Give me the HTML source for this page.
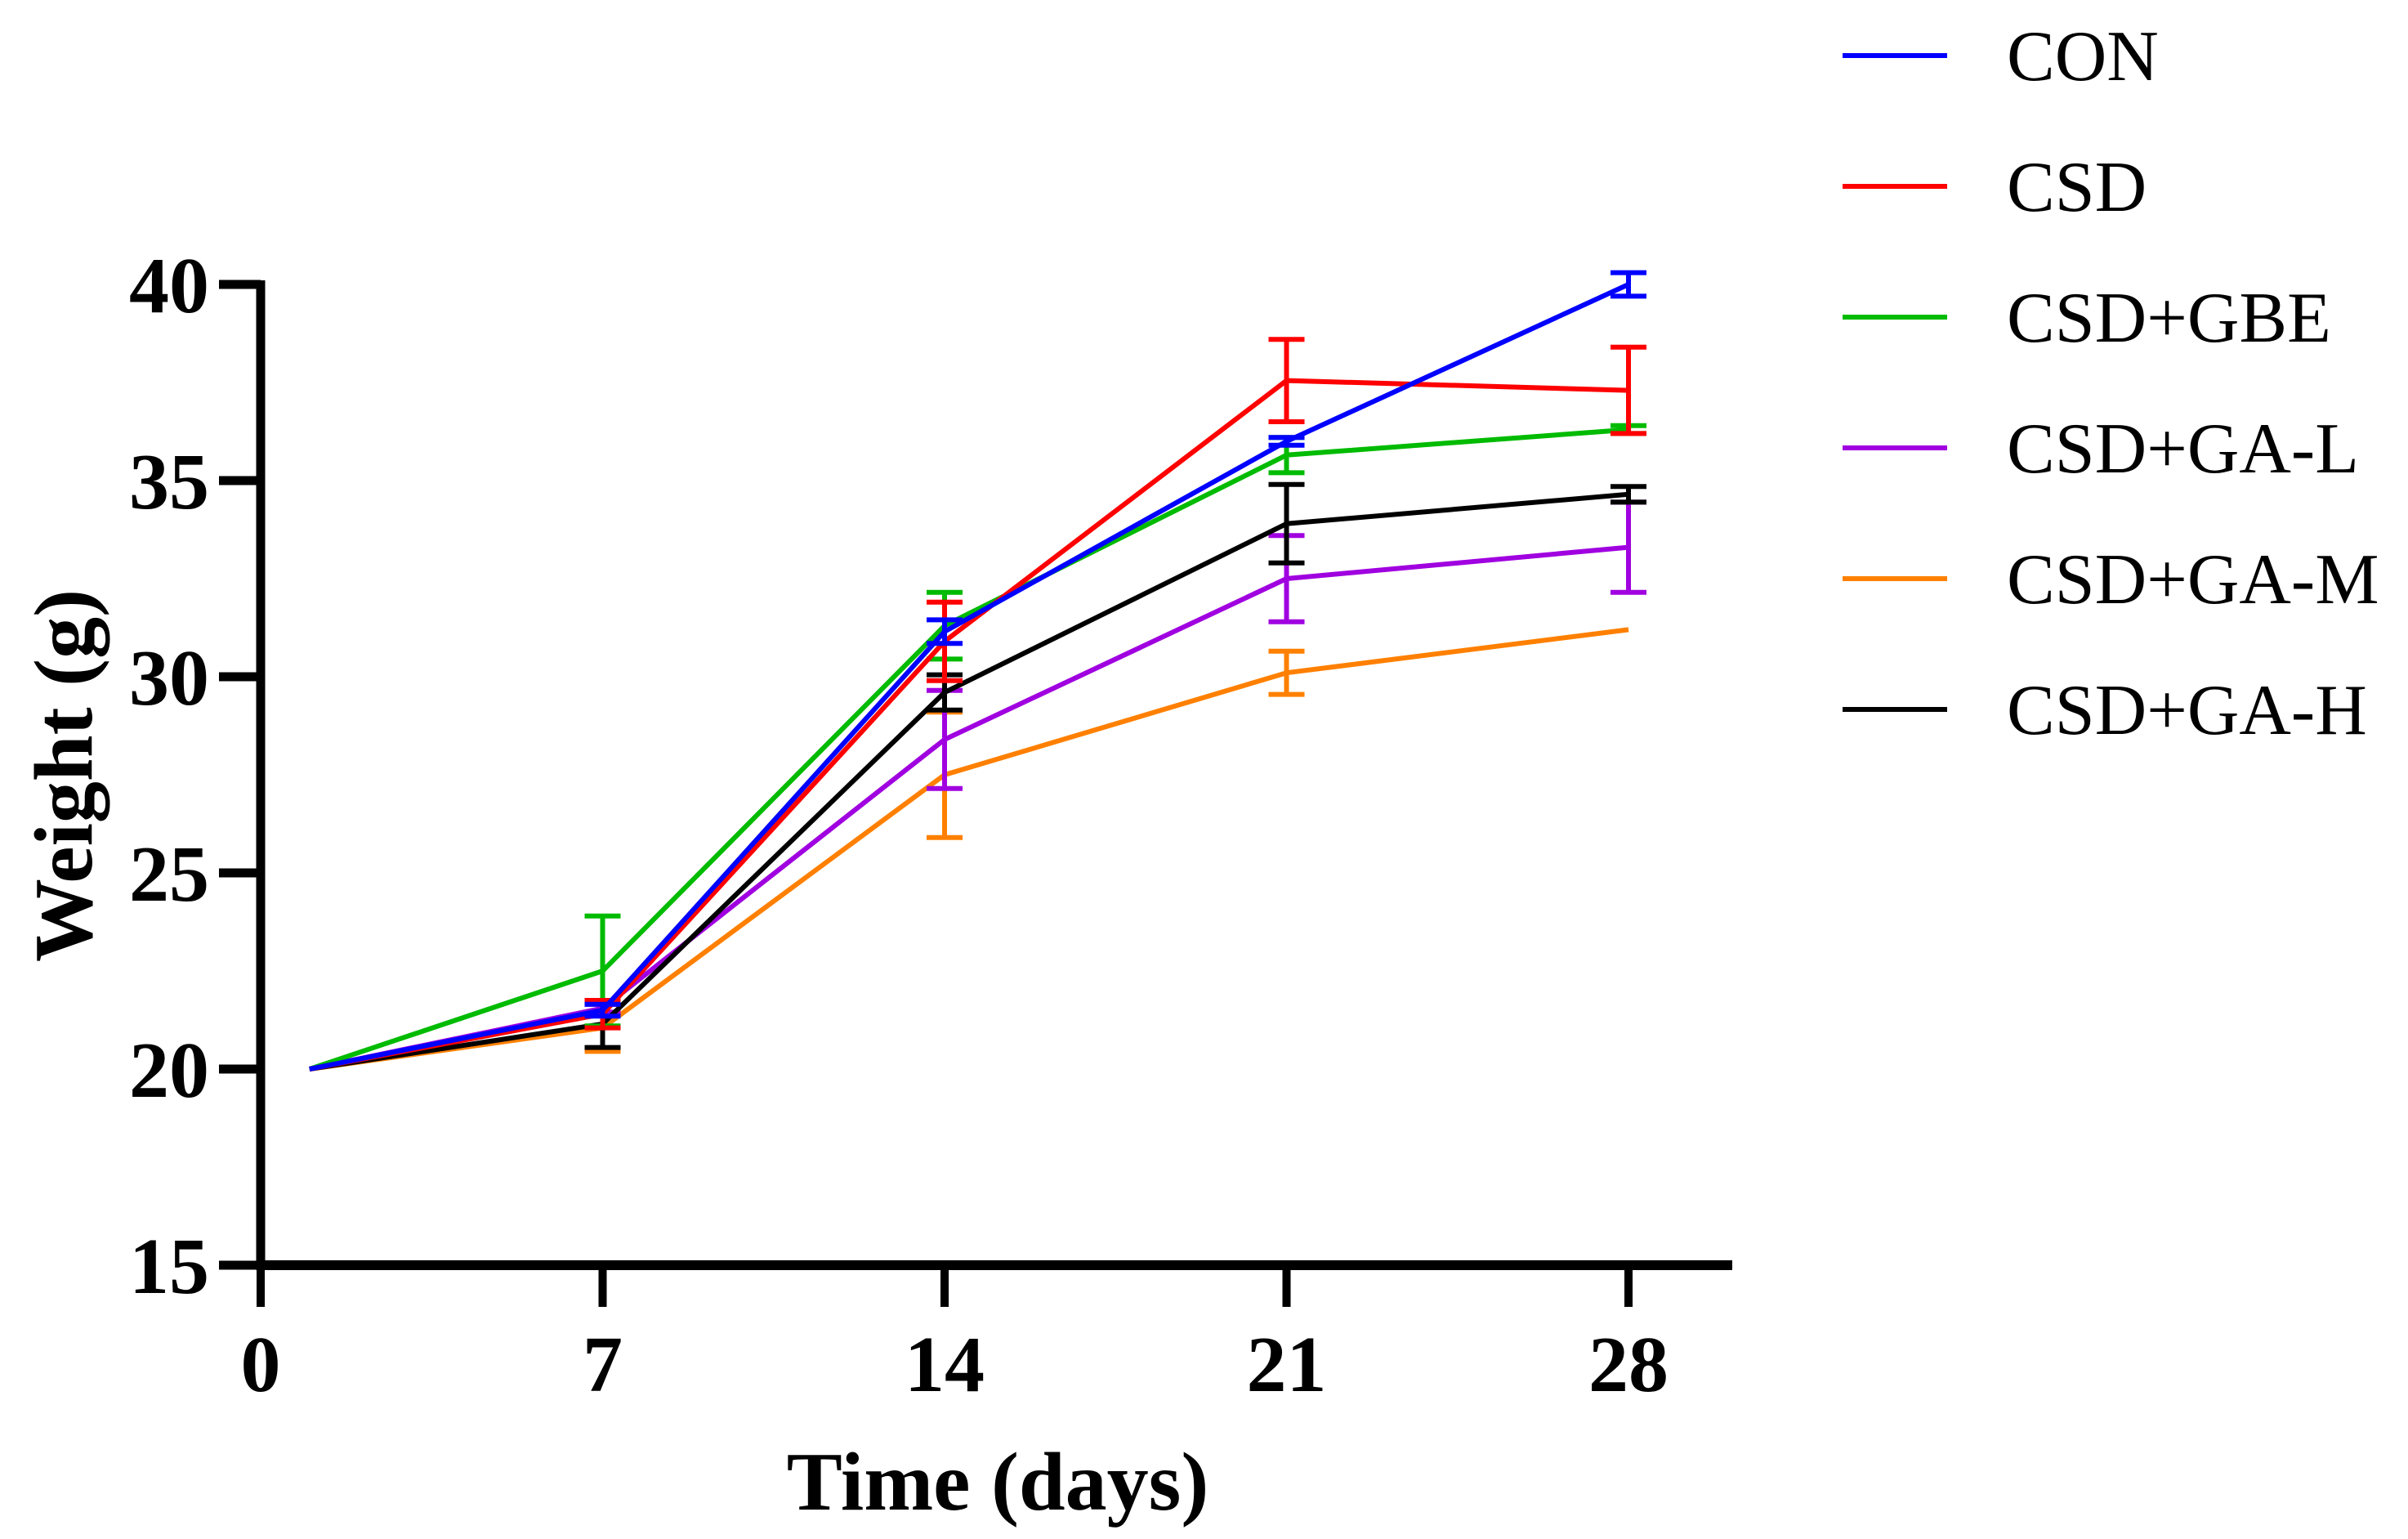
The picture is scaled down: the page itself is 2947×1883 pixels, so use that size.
<!DOCTYPE html>
<html><head><meta charset="utf-8"><style>
html,body{margin:0;padding:0;background:#fff;}
svg{display:block;font-family:"Liberation Serif",serif;}
</style></head><body>
<svg id="chart" width="2947" height="1883" viewBox="0 0 2947 1883">
<g id="plot"></g>
<g id="axes"></g>
<g id="legend"></g>
</svg>
<script>
const days = [1, 7, 14, 21, 28];
const seriesNames = ["CON","CSD","CSD+GBE","CSD+GA-L","CSD+GA-M","CSD+GA-H"];
const seriesColors = ["#0000ff","#ff0000","#00bb00","#a000e0","#ff8000","#000000"];
const conVals = [20, 21.5, 31.15, 36.0, 40.0];
const conErr = [0, 0.15, 0.3, 0.1, 0.3];
const csdVals = [20, 21.4, 30.9, 37.55, 37.3];
const csdErr = [0, 0.35, 1.0, 1.05, 1.1];
const gbeVals = [20, 22.5, 31.3, 35.65, 36.3];
const gbeErr = [0, 1.4, 0.85, 0.45, 0.1];
const galVals = [20, 21.55, 28.4, 32.5, 33.3];
const galErr = [0, 0.1, 1.25, 1.1, 1.15];
const gamVals = [20, 21.05, 27.5, 30.1, 31.2];
const gamErr = [0, 0.6, 1.6, 0.55, 0];
const gahVals = [20, 21.15, 29.6, 33.9, 34.65];
const gahErr = [0, 0.6, 0.45, 1.0, 0.2];
const xTicks = [0, 7, 14, 21, 28];
const yTicks = [15, 20, 25, 30, 35, 40];

const NS = "http://www.w3.org/2000/svg";
const X0 = 319, X28 = 1993, Y15 = 1548, Y40 = 348;
function xs(d){ return X0 + (X28 - X0) * d / 28; }
function ys(v){ return Y15 - (Y15 - Y40) * (v - 15) / 25; }
function mk(tag, attrs, parent){
  const e = document.createElementNS(NS, tag);
  for (const k in attrs) e.setAttribute(k, attrs[k]);
  parent.appendChild(e);
  return e;
}
const plot = document.getElementById('plot');
const axes = document.getElementById('axes');
const legend = document.getElementById('legend');
const allVals = [conVals, csdVals, gbeVals, galVals, gamVals, gahVals];
const allErr = [conErr, csdErr, gbeErr, galErr, gamErr, gahErr];
const drawOrder = [4, 3, 5, 2, 1, 0];
drawOrder.forEach(function(i){
  const c = seriesColors[i];
  const g = mk('g', {}, plot);
  
  
  const pts = days.map((d, j) => xs(d) + ',' + ys(allVals[i][j])).join(' ');
  const line = mk('polyline', {points: pts, fill: 'none', stroke: c, 'stroke-width': 6, 'stroke-linejoin': 'round'}, g);
  
  
  days.forEach(function(d, j){
    const e = allErr[i][j];
    if (e <= 0) return;
    const x = xs(d), v = allVals[i][j];
    const eb = mk('path', {d: 'M' + x + ',' + ys(v - e) + 'V' + ys(v + e) + 'M' + (x - 22) + ',' + ys(v + e) + 'h44M' + (x - 22) + ',' + ys(v - e) + 'h44', stroke: c, 'stroke-width': 6, fill: 'none'}, g);
    
    
  });
});
const yl = mk('line', {x1: X0, y1: Y40 - 5, x2: X0, y2: Y15 + 6, stroke: '#000', 'stroke-width': 11}, axes);


const xl = mk('line', {x1: X0 - 5, y1: Y15, x2: 2120, y2: Y15, stroke: '#000', 'stroke-width': 12}, axes);


yTicks.forEach(function(v){
  const t = mk('line', {x1: 268, y1: ys(v), x2: X0, y2: ys(v), stroke: '#000', 'stroke-width': 11}, axes);
  
  
  const l = mk('text', {x: 256, y: ys(v) + 34, 'text-anchor': 'end', 'font-size': 98, 'font-weight': 'bold'}, axes);
  l.textContent = v;
  
  
});
xTicks.forEach(function(d){
  const t = mk('line', {x1: xs(d), y1: Y15, x2: xs(d), y2: 1599, stroke: '#000', 'stroke-width': 10}, axes);
  
  
  const l = mk('text', {x: xs(d), y: 1702, 'text-anchor': 'middle', 'font-size': 98, 'font-weight': 'bold'}, axes);
  l.textContent = d;
  
  
});
const xt = mk('text', {x: 1221, y: 1847, 'text-anchor': 'middle', 'font-size': 102, 'font-weight': 'bold'}, axes);
xt.textContent = 'Time (days)';


const yt = mk('text', {x: 0, y: 0, 'text-anchor': 'middle', 'font-size': 102, 'font-weight': 'bold', transform: 'translate(112,949) rotate(-90)'}, axes);
yt.textContent = 'Weight (g)';


const legY = [68, 228, 388, 548, 708, 868];
seriesNames.forEach(function(n, i){
  const g = mk('g', {}, legend);
  
  
  mk('line', {x1: 2255, y1: legY[i], x2: 2383, y2: legY[i], stroke: seriesColors[i], 'stroke-width': 6}, g);
  const t = mk('text', {x: 2456, y: legY[i] + 30, 'font-size': 88}, g);
  t.textContent = n;
});
</script>
</body></html>
